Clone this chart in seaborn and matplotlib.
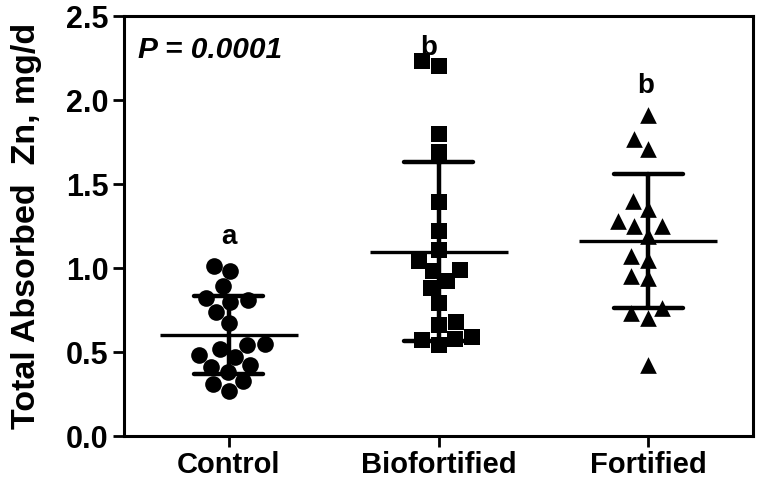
import numpy as np
import pandas as pd
import matplotlib
matplotlib.use("Agg")
import matplotlib.pyplot as plt
import seaborn as sns

# --- DATA ---
groups = ["Control", "Biofortified", "Fortified"]
control = [0.98, 1.01, 0.89, 0.82, 0.81, 0.80, 0.74, 0.67, 0.54, 0.55,
           0.52, 0.48, 0.47, 0.41, 0.42, 0.38, 0.33, 0.31, 0.27]
biofortified = [2.20, 2.23, 1.80, 1.69, 1.39, 1.22, 1.11, 1.04, 0.98, 0.99,
                0.88, 0.92, 0.79, 0.66, 0.68, 0.58, 0.59, 0.54, 0.57]
fortified = [1.91, 1.77, 1.71, 1.40, 1.35, 1.28, 1.25, 1.25, 1.19, 1.05,
             1.07, 0.94, 0.95, 0.73, 0.76, 0.70, 0.42]
letters = ["a", "b", "b"]
p_text = "P = 0.0001"

df = pd.DataFrame({
    "group": ["Control"] * len(control) + ["Biofortified"] * len(biofortified)
             + ["Fortified"] * len(fortified),
    "zn": control + biofortified + fortified,
})

# --- STYLE ---
sns.set_theme(style="white")
plt.rcParams["font.family"] = ["Liberation Sans", "DejaVu Sans"]
plt.rcParams["font.weight"] = "bold"
for key in ["text.color", "axes.labelcolor", "xtick.color", "ytick.color"]:
    plt.rcParams[key] = "black"

fig, ax = plt.subplots(figsize=(7.59, 4.84), dpi=100)
fig.subplots_adjust(left=124 / 759, right=753 / 759, top=1 - 16 / 484, bottom=1 - 436 / 484)

# scatter dots, one marker per group
for g, m in zip(groups, ["o", "s", "^"]):
    sns.swarmplot(data=df[df["group"] == g], x="group", y="zn", order=groups,
                  marker=m, color="black", size=12, ax=ax)

# mean line with SD whiskers
sns.pointplot(data=df, x="group", y="zn", order=groups, errorbar="sd",
              capsize=0.33, linestyle="none", marker="_", markersize=100,
              markeredgewidth=2.4, color="black",
              err_kws={"linewidth": 3.2}, ax=ax)

# significance letters
letter_x = [0, 0.955, 1.99]
letter_y = [1.14, 2.27, 2.04]
for lab, x, y in zip(letters, letter_x, letter_y):
    ax.text(x, y, lab, ha="center", va="baseline", fontsize=20, fontweight="bold")

ax.text(0.022, 0.9, p_text, transform=ax.transAxes, ha="left", va="baseline",
        fontsize=21.5, fontweight="bold", fontstyle="italic")

ax.set_xlim(-0.5, 2.5)
ax.set_ylim(0, 2.5)
ax.set_yticks(np.arange(0, 2.51, 0.5))
ax.yaxis.set_major_formatter(matplotlib.ticker.FormatStrFormatter("%.1f"))
ax.set_xlabel("")
ax.set_ylabel("Total Absorbed  Zn, mg/d", fontsize=24.5, fontweight="bold", labelpad=17)

ax.tick_params(axis="both", direction="out", length=8, width=2, color="black",
               bottom=True, left=True, pad=3)
ax.tick_params(axis="y", labelsize=22)
ax.tick_params(axis="x", labelsize=21)
for s in ax.spines.values():
    s.set_linewidth(2.2)
    s.set_color("black")

plt.savefig("out.png", dpi=100)
